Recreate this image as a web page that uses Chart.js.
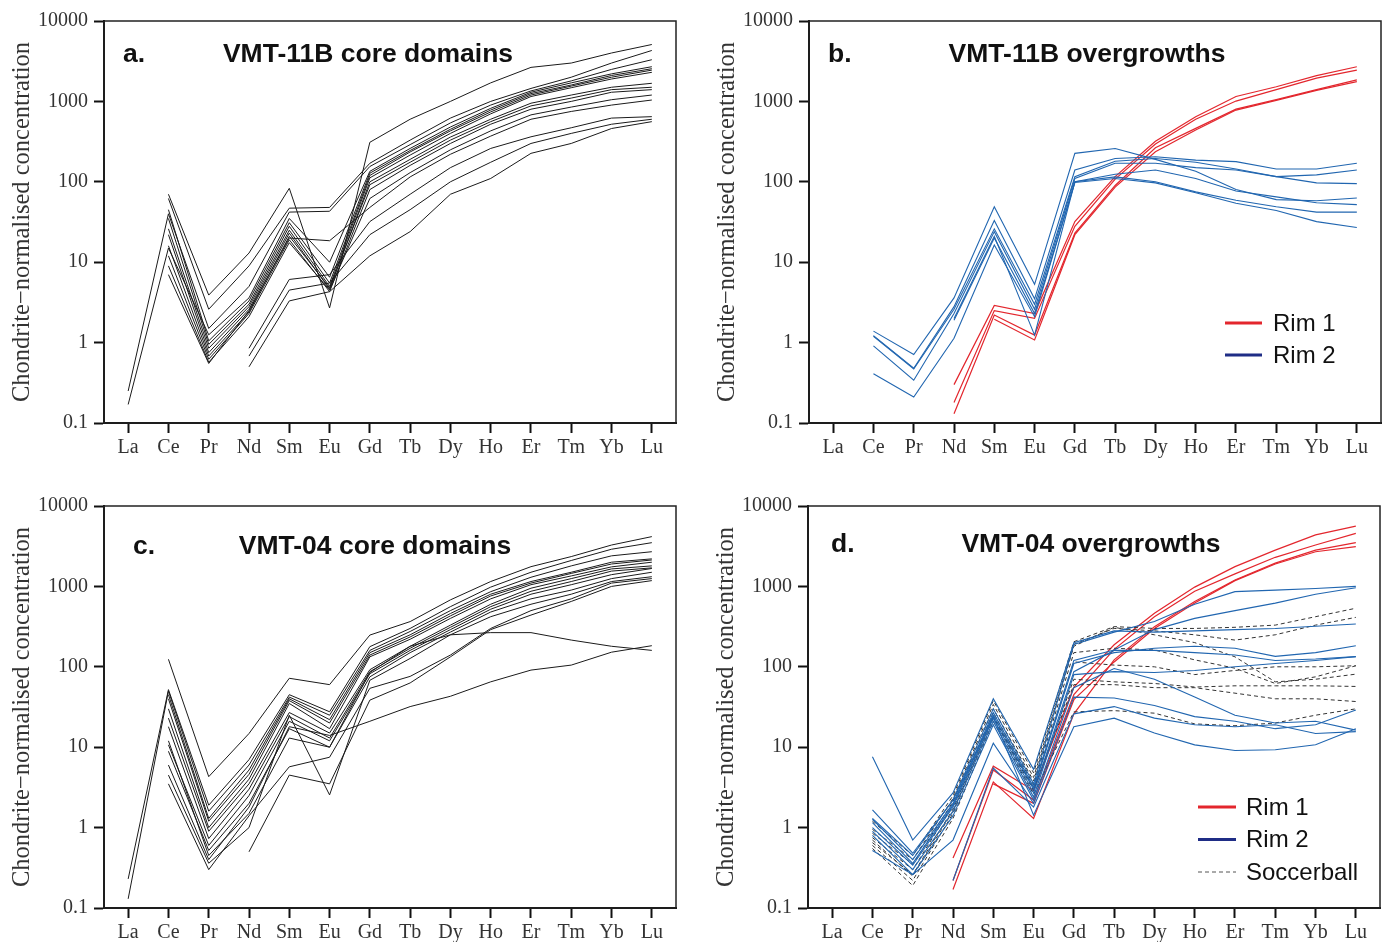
<!DOCTYPE html>
<html>
<head>
<meta charset="utf-8">
<script src="https://cdn.jsdelivr.net/npm/chart.js@4.4.1/dist/chart.umd.min.js"></script>
<style>
  body { margin: 0; background: #fff; width: 1389px; height: 942px; overflow: hidden; position: relative; }
  canvas { position: absolute; }
</style>
</head>
<body>
<canvas id="chartA" width="694" height="470" style="left:0px;top:0px"></canvas>
<canvas id="chartB" width="694" height="470" style="left:705px;top:0px"></canvas>
<canvas id="chartC" width="694" height="457" style="left:0px;top:485px"></canvas>
<canvas id="chartD" width="694" height="457" style="left:704px;top:485px"></canvas>
<script>
// REE order on the x axis
const elements = ["La", "Ce", "Pr", "Nd", "Sm", "Eu", "Gd", "Tb", "Dy", "Ho", "Er", "Tm", "Yb", "Lu"];
const yTicks = [0.1, 1, 10, 100, 1000, 10000];

// a. VMT-11B core domains
const coreA = [
    [null, 70, 3.9, 13, 83, 2.7, 310, 600, 1000, 1700, 2650, 3000, 4000, 5100],
    [null, 62, 2.6, 9, 47, 48, 170, 330, 620, 1000, 1450, 2000, 3000, 4300],
    [0.25, 40, 1.5, 5, 42, 43, 155, 290, 540, 900, 1350, 1800, 2500, 3300],
    [0.17, 15, 1.25, 3.6, 35, 10, 135, 260, 480, 820, 1300, 1700, 2200, 2700],
    [null, 45, 1.05, 3.3, 31, 6.5, 128, 245, 450, 780, 1250, 1600, 2100, 2550],
    [null, 35, 0.95, 3.0, 28, 5.5, 120, 235, 430, 740, 1200, 1550, 2000, 2450],
    [null, 26, 0.85, 2.8, 25, 5.0, 112, 215, 400, 700, 1150, 1480, 1900, 2300],
    [null, 22, 0.75, 2.6, 23, 4.6, 100, 190, 360, 600, 950, 1200, 1500, 1680],
    [null, 16, 0.68, 2.4, 21, 4.8, 92, 175, 330, 560, 880, 1100, 1400, 1500],
    [null, 12, 0.62, 2.3, 19, 4.3, 80, 160, 300, 520, 800, 1000, 1300, 1400],
    [null, 9, 0.57, 2.1, 17.5, 4.5, 62, 130, 250, 430, 680, 850, 1050, 1200],
    [null, 7, 0.55, 2.5, 20, 18.5, 48, 115, 220, 370, 600, 750, 900, 1040],
    [null, null, null, 0.85, 6.1, 7, 32, 70, 150, 260, 363, 470, 620, 646],
    [null, null, null, 0.68, 4.5, 5.5, 22, 45, 100, 175, 300, 400, 520, 600],
    [null, null, null, 0.5, 3.3, 4.3, 12, 24, 70, 110, 226, 300, 460, 560]
];

// b. VMT-11B overgrowths
const rim1B = [
    [null, null, null, 0.30, 2.9, 2.3, 32, 116, 320, 645, 1150, 1520, 2090, 2700],
    [null, null, null, 0.18, 2.5, 2.0, 28, 108, 295, 600, 1010, 1400, 1950, 2450],
    [null, null, null, 0.13, 2.2, 1.24, 23, 90, 265, 462, 800, 1050, 1400, 1850],
    [null, null, null, null, 1.95, 1.08, 22, 86, 236, 440, 780, 1030, 1370, 1760]
];
const rim2B = [
    [null, 1.39, 0.71, 3.6, 49, 5.3, 226, 260, 190, 135, 80, 60, 58, 63],
    [null, 1.22, 0.48, 2.8, 33, 3.5, 140, 195, 205, 186, 178, 144, 144, 170],
    [null, 1.2, 0.47, 2.6, 26, 3.0, 116, 180, 195, 175, 144, 116, 122, 140],
    [null, 0.91, 0.34, 2.3, 24, 2.6, 110, 170, 170, 150, 140, 116, 97, 95],
    [null, 0.41, 0.21, 1.13, 16.4, 2.1, 100, 124, 140, 110, 77, 65, 55, 52],
    [null, null, null, 2.0, 21, 1.24, 100, 115, 100, 75, 59, 49, 42, 42],
    [null, null, null, 1.9, 20, 2.3, 98, 110, 97, 73, 54, 44, 32, 27]
];

// c. VMT-04 core domains
const coreC = [
    [null, 124, 4.3, 14.8, 72, 60, 248, 365, 680, 1150, 1760, 2350, 3270, 4160],
    [0.23, 52, 1.9, 7, 45, 27.6, 178, 300, 560, 980, 1500, 2100, 2900, 3500],
    [0.13, 50, 1.6, 6, 42, 25, 160, 275, 500, 860, 1300, 1800, 2400, 2700],
    [null, 45, 1.3, 5.2, 40, 22, 150, 250, 460, 800, 1150, 1500, 2000, 2200],
    [null, 40, 1.2, 4.6, 38, 20, 140, 235, 430, 760, 1100, 1450, 1900, 2130],
    [null, 30, 1.0, 4.0, 35, 17, 133, 220, 400, 700, 1050, 1350, 1750, 2000],
    [null, 23, 0.9, 3.5, 27, 15, 92, 180, 330, 600, 950, 1250, 1650, 1800],
    [null, 18, 0.73, 3.0, 24, 13, 87, 170, 310, 560, 870, 1150, 1550, 1700],
    [null, 10.7, 0.6, 2.5, 21, 12, 82, 160, 290, 520, 800, 1050, 1400, 1670],
    [null, 8.9, 0.52, 2.0, 17, 10, 75, 150, 270, 480, 700, 900, 1250, 1500],
    [null, 4.5, 0.36, 1.0, 25, 2.55, 68, 127, 250, 420, 600, 800, 1150, 1320],
    [null, 3.5, 0.3, 1.4, 5.7, 7.5, 54, 76, 140, 300, 500, 700, 1100, 1250],
    [null, null, null, 0.5, 4.5, 3.5, 38.5, 63, 133, 290, 440, 650, 1000, 1180],
    [null, 12, 0.45, 1.5, 13, 10, 85, 180, 250, 266, 266, 215, 180, 160],
    [null, 6, 0.4, 1.8, 18, 14, 21, 32, 43, 65, 91, 105, 152, 183]
];

// d. VMT-04 overgrowths
const rim1D = [
    [null, null, null, 0.42, 5.8, 2.9, 56, 188, 462, 980, 1760, 2830, 4370, 5630],
    [null, null, null, 0.22, 5.2, 2.2, 45, 165, 420, 870, 1430, 2300, 3270, 4570],
    [null, null, null, 0.17, 3.7, 1.3, 26, 122, 316, 650, 1200, 1950, 2830, 3500],
    [null, null, null, null, 3.5, 2.0, 39, 115, 300, 620, 1180, 1900, 2700, 3120]
];
const rim2D = [
    [null, 7.6, 0.7, 2.7, 40, 5.3, 200, 280, 270, 280, 290, 300, 320, 340],
    [null, 1.66, 0.48, 2.2, 30, 3.5, 190, 270, 365, 600, 860, 900, 940, 1000],
    [null, 1.27, 0.40, 2.0, 27, 3.2, 120, 162, 290, 400, 500, 620, 800, 960],
    [null, 1.15, 0.36, 1.9, 25, 3.0, 110, 150, 170, 180, 170, 135, 150, 183],
    [null, 1.0, 0.34, 1.8, 23, 2.7, 87, 160, 160, 150, 140, 120, 125, 134],
    [null, 0.9, 0.30, 1.6, 21, 2.4, 80, 87, 85, 90, 100, 110, 120, 134],
    [null, 0.8, 0.26, 1.4, 19, 2.2, 55, 95, 70, 42, 25, 20, 21, 16.3],
    [null, 0.52, 0.26, 0.7, 11.2, 2.0, 42, 41, 33, 24, 21, 17, 19, 29],
    [null, null, null, 0.22, 5.5, 1.8, 26, 32, 23, 19, 18, 19, 14.8, 15.6],
    [null, 1.3, 0.45, 2.2, 24, 1.43, 18, 23, 15, 10.7, 9.1, 9.3, 10.7, 17]
];
const soccerD = [
    [null, 1.2, 0.45, 2.5, 38, 4.8, 205, 316, 300, 300, 310, 330, 420, 535],
    [null, 0.95, 0.4, 2.3, 34, 4.2, 190, 300, 280, 250, 215, 250, 330, 412],
    [null, 0.85, 0.35, 2.1, 30, 3.8, 180, 310, 250, 200, 133, 65, 70, 81],
    [null, 0.75, 0.30, 1.9, 27, 3.4, 150, 170, 162, 122, 96, 62, 75, 103],
    [null, 0.65, 0.26, 1.7, 25, 3.1, 115, 105, 100, 80, 90, 100, 100, 103],
    [null, 0.6, 0.22, 1.5, 23, 2.9, 70, 65, 62, 56, 58, 58, 58, 57],
    [null, 0.55, 0.19, 1.3, 21, 2.6, 27.5, 28.5, 26.5, 19.5, 18.5, 20, 25, 30],
    [null, 0.7, 0.25, 1.6, 24, 3.0, 60, 60, 55, 55, 47, 40, 40, 37]
];

const BLACK = "#1a1a1a";
const RED = "#e3262d";
const BLUE = "#2166b0";
const NAVY = "#1f2d86";
const SERIF = '"Liberation Serif", "Times New Roman", serif';
const SANS = '"Liberation Sans", Arial, sans-serif';

function lines(rows, color, width, dash) {
    return rows.map(r => ({
        data: r.map((v, i) => ({ x: i, y: v })),
        borderColor: color,
        borderWidth: width,
        borderDash: dash || [],
        pointRadius: 0,
        fill: false,
        spanGaps: false
    }));
}

// frame, panel letter/title and the small legends
const decor = {
    id: "decor",
    afterDraw(chart, args, o) {
        const ctx = chart.ctx, a = chart.chartArea;
        ctx.save();
        ctx.strokeStyle = "#222";
        ctx.lineWidth = 1.5;
        ctx.strokeRect(a.left, a.top, a.right - a.left, a.bottom - a.top);

        ctx.fillStyle = "#111";
        ctx.font = "bold 26.5px " + SANS;
        ctx.textBaseline = "alphabetic";
        ctx.textAlign = "left";
        ctx.fillText(o.letter, a.left + o.letterDx, a.top + o.textDy);
        ctx.textAlign = "center";
        ctx.fillText(o.title, a.left + o.titleDx, a.top + o.textDy);

        (o.legend || []).forEach((item, k) => {
            const y = a.top + o.legendDy + k * o.legendStep;
            ctx.beginPath();
            ctx.strokeStyle = item.color;
            ctx.lineWidth = item.width;
            ctx.setLineDash(item.dash || []);
            ctx.moveTo(a.left + o.legendX0, y);
            ctx.lineTo(a.left + o.legendX1, y);
            ctx.stroke();
            ctx.setLineDash([]);
            ctx.fillStyle = "#111";
            ctx.font = "24px " + SANS;
            ctx.textAlign = "left";
            ctx.textBaseline = "middle";
            ctx.fillText(item.text, a.left + o.legendText, y + 1);
        });
        ctx.restore();
    }
};

function makeChart(id, datasets, xHeight, padBottom, deco) {
    return new Chart(document.getElementById(id), {
        type: "line",
        data: { datasets: datasets },
        options: {
            responsive: false,
            animation: false,
            layout: { padding: { left: 0, right: 18, top: 21, bottom: padBottom } },
            plugins: {
                legend: { display: false },
                tooltip: { enabled: false },
                decor: deco
            },
            scales: {
                x: {
                    type: "linear",
                    min: -0.6,
                    max: 13.6,
                    afterBuildTicks: s => { s.ticks = elements.map((e, i) => ({ value: i })); },
                    afterFit: s => { s.height = xHeight; },
                    ticks: {
                        callback: v => elements[v],
                        autoSkip: false,
                        maxRotation: 0,
                        padding: 3,
                        color: "#333",
                        font: { family: SERIF, size: 20 }
                    },
                    grid: { drawOnChartArea: false, tickLength: 10, tickWidth: 2, tickColor: "#111" },
                    border: { width: 2, color: "#111" }
                },
                y: {
                    type: "logarithmic",
                    min: 0.1,
                    max: 10000,
                    afterBuildTicks: s => { s.ticks = yTicks.map(v => ({ value: v })); },
                    afterFit: s => { s.width = 104; },
                    ticks: {
                        callback: v => String(v),
                        padding: 6,
                        color: "#333",
                        font: { family: SERIF, size: 20 }
                    },
                    grid: { drawOnChartArea: false, tickLength: 10, tickWidth: 2, tickColor: "#111" },
                    border: { width: 2, color: "#111" },
                    title: {
                        display: true,
                        text: "Chondrite\u2212normalised concentration",
                        color: "#333",
                        font: { family: SERIF, size: 24.5 },
                        padding: { top: 8, bottom: 0 }
                    }
                }
            }
        },
        plugins: [decor]
    });
}

document.addEventListener("DOMContentLoaded", function () {
    makeChart("chartA", lines(coreA, BLACK, 1), 40, 7, {
        letter: "a.", letterDx: 19, title: "VMT-11B core domains", titleDx: 264, textDy: 41
    });

    makeChart("chartB", [...lines(rim2B, BLUE, 1.1), ...lines(rim1B, RED, 1.2)], 40, 7, {
        letter: "b.", letterDx: 19, title: "VMT-11B overgrowths", titleDx: 278, textDy: 41,
        legendX0: 416, legendX1: 453, legendText: 464, legendDy: 302, legendStep: 32,
        legend: [
            { text: "Rim 1", color: RED, width: 3 },
            { text: "Rim 2", color: NAVY, width: 3 }
        ]
    });

    makeChart("chartC", lines(coreC, BLACK, 1), 34, 0, {
        letter: "c.", letterDx: 29, title: "VMT-04 core domains", titleDx: 271, textDy: 48
    });

    makeChart("chartD", [...lines(rim2D, BLUE, 1.1), ...lines(soccerD, "#333", 1, [4, 3]), ...lines(rim1D, RED, 1.2)], 34, 0, {
        letter: "d.", letterDx: 23, title: "VMT-04 overgrowths", titleDx: 283, textDy: 46,
        legendX0: 390, legendX1: 428, legendText: 438, legendDy: 301, legendStep: 32.5,
        legend: [
            { text: "Rim 1", color: RED, width: 3 },
            { text: "Rim 2", color: NAVY, width: 3 },
            { text: "Soccerball", color: "#555", width: 1, dash: [4, 3] }
        ]
    });
});
</script>
</body>
</html>
